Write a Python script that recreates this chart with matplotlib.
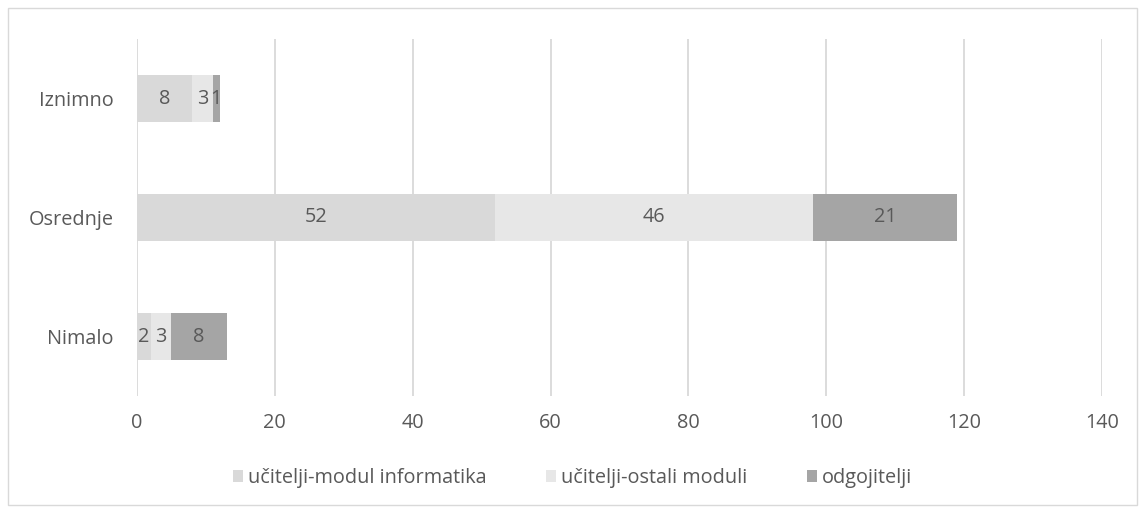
import matplotlib
matplotlib.use("Agg")
import matplotlib.pyplot as plt
from matplotlib.patches import Rectangle

categories = ["Nimalo", "Osrednje", "Iznimno"]
series_names = ["učitelji-modul informatika", "učitelji-ostali moduli", "odgojitelji"]
informatika = [2, 52, 8]
ostali = [3, 46, 3]
odgojitelji = [8, 21, 1]
xticks = [0, 20, 40, 60, 80, 100, 120, 140]

colors = ["#d9d9d9", "#e7e7e7", "#a5a5a5"]
txt = "#595959"
plt.rcParams['font.family'] = ['Open Sans', 'DejaVu Sans']
fs = 14.3

fig = plt.figure(figsize=(11.45, 5.12), dpi=100)
ax = fig.add_axes([137/1145, 1-396/512, (1102-137)/1145, (396-39)/512])

ypos = list(range(len(categories)))
left = [0]*len(categories)
for name, vals, c in zip(series_names, [informatika, ostali, odgojitelji], colors):
    ax.barh(ypos, vals, left=left, height=0.4, color=c, label=name, zorder=3)
    for y, v, l in zip(ypos, vals, left):
        ax.text(l + v/2, y, str(v), ha='center', va='center', color=txt, fontsize=fs, zorder=4)
    left = [a+b for a, b in zip(left, vals)]

ax.set_xlim(0, 140)
ax.set_ylim(-0.5, 2.5)
ax.set_xticks(xticks)
ax.set_yticks(ypos)
ax.set_yticklabels(categories)
ax.tick_params(length=0, colors=txt, labelsize=fs)
ax.tick_params(axis='x', pad=12)
ax.tick_params(axis='y', pad=17)
ax.grid(axis='x', color='#d9d9d9', linewidth=1.3, zorder=0)
for s in ax.spines.values():
    s.set_visible(False)

fig.legend(loc='center', bbox_to_anchor=(0.5, 1-478/512), ncol=3, frameon=False,
           fontsize=fs, handlelength=0.5, handleheight=0.5, handletextpad=0.25, columnspacing=3.0,
           labelcolor=txt)

fig.patches.append(Rectangle((8/1145, 1-505/512), 1129/1145, 497/512, transform=fig.transFigure,
                             fill=False, edgecolor='#d9d9d9', linewidth=1))
fig.savefig("out.png", dpi=100)
